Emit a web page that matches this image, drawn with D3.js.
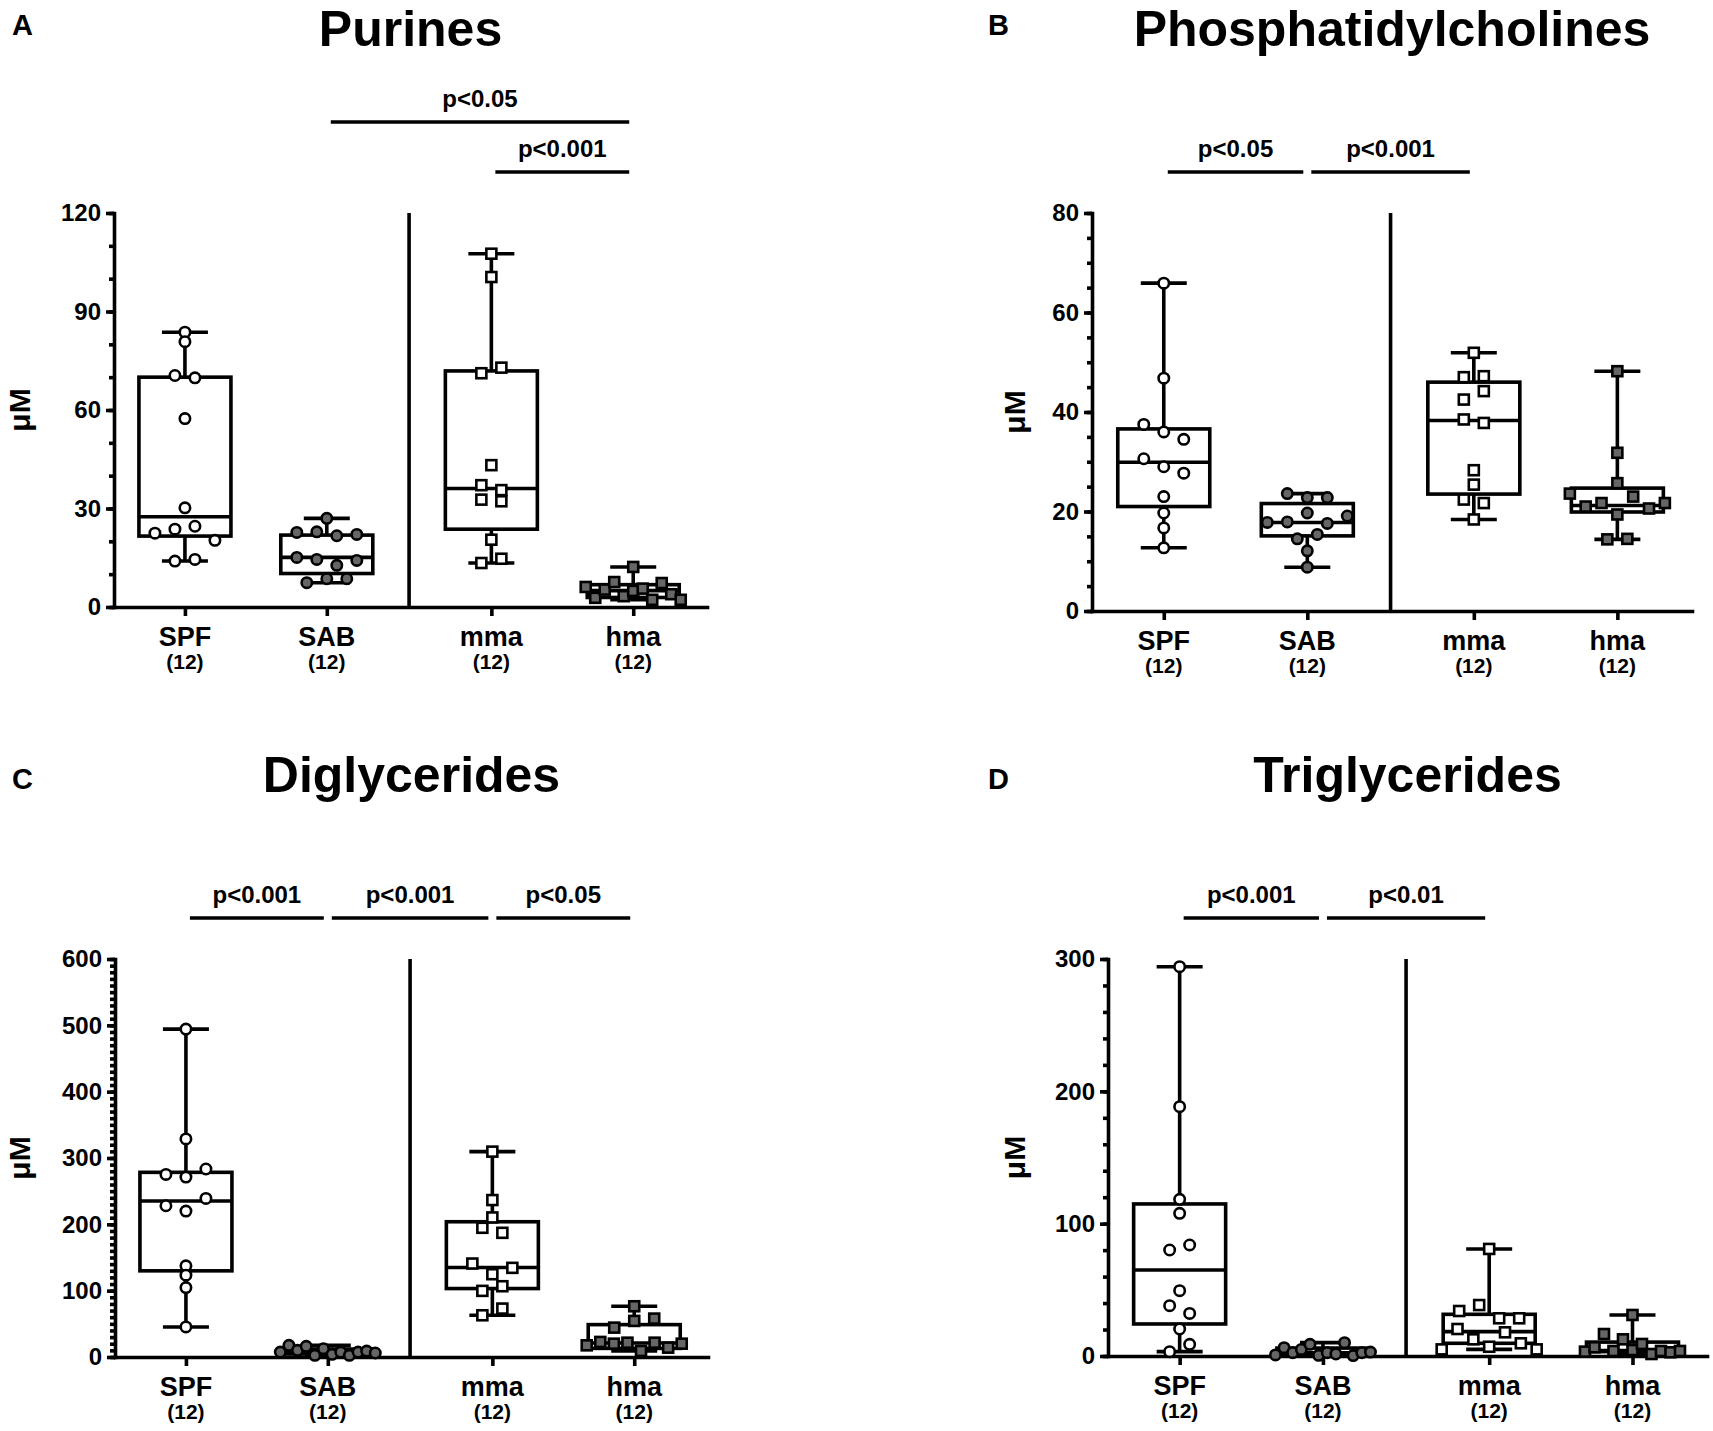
<!DOCTYPE html>
<html><head><meta charset="utf-8">
<script src="https://cdn.jsdelivr.net/npm/d3@7/dist/d3.min.js"></script>
<style>
body{margin:0;background:#fff}
svg{display:block}
text{font-family:"Liberation Sans",Arial,Helvetica,sans-serif;font-weight:bold;fill:#000}
</style>
</head><body>
<svg id="chart" width="1713" height="1431"></svg>
<script>
// ---------- data ----------
const groups = ["SPF", "SAB", "mma", "hma"];
const groupCounts = ["(12)", "(12)", "(12)", "(12)"];
const panelLetters = ["A", "B", "C", "D"];
const panelTitles = ["Purines", "Phosphatidylcholines", "Diglycerides", "Triglycerides"];
const yLabel = "μM";
const yMaxes = [120, 80, 600, 300];
const yMajorSteps = [30, 20, 100, 100];
const yMinorSteps = [10, 5, 10, 20];

// Purines
const purinesSPF = [83.7, 80.8, 70.5, 69.8, 57.4, 30.2, 22.5, 23.7, 24.6, 20.3, 14.0, 14.5];
const purinesSAB = [27.0, 22.7, 22.9, 21.7, 22.1, 15.1, 14.5, 12.7, 14.2, 7.4, 8.6, 8.6];
const purinesMMA = [107.6, 100.5, 71.2, 72.9, 43.2, 37.1, 35.6, 32.7, 32.2, 20.5, 13.4, 14.7];
const purinesHMA = [12.2, 6.1, 2.8, 5.3, 7.6, 3.3, 4.9, 5.6, 2.2, 7.3, 3.9, 2.2];
// box stats: [min, q1, median, q3, max]
const purinesBoxes = [[14.0, 21.6, 27.5, 70.0, 83.7], [7.4, 10.2, 15.1, 21.9, 27.0], [13.4, 23.7, 36.1, 71.9, 107.6], [2.2, 2.9, 5.0, 6.8, 12.2]];
const purinesSig = [["SAB", "hma", "p<0.05"], ["mma", "hma", "p<0.001"]];

// Phosphatidylcholines
const pcSPF = [65.9, 46.8, 37.5, 36.0, 34.5, 30.6, 29.0, 27.7, 23.0, 19.7, 16.7, 12.7];
const pcSAB = [23.6, 22.8, 22.8, 17.8, 17.9, 19.7, 17.6, 19.1, 14.5, 15.4, 12.1, 8.8];
const pcMMA = [51.9, 47.0, 47.2, 42.5, 44.2, 38.5, 37.8, 28.3, 25.4, 22.4, 21.7, 18.4];
const pcHMA = [48.2, 31.8, 25.7, 23.6, 21.0, 21.7, 19.4, 23.0, 20.6, 21.7, 14.4, 14.5];
const pcBoxes = [[12.7, 21.0, 29.9, 36.6, 65.9], [8.8, 15.1, 17.8, 21.6, 23.6], [18.4, 23.5, 38.3, 46.0, 51.9], [14.4, 19.9, 21.2, 24.7, 48.2]];
const pcSig = [["SPF", "SAB", "p<0.05"], ["SAB", "mma", "p<0.001"]];

// Diglycerides
const dgSPF = [494.3, 328.7, 275.3, 271.3, 283.4, 228.0, 220.0, 239.1, 137.4, 123.3, 104.7, 45.3];
const dgSAB = [7.5, 17.6, 10.0, 16.1, 2.5, 12.6, 4.0, 7.5, 2.5, 7.5, 9.0, 6.0];
const dgMMA = [309.6, 236.6, 210.4, 194.8, 187.2, 140.9, 124.8, 134.4, 99.7, 106.7, 62.9, 73.0];
const dgHMA = [76.5, 44.3, 54.4, 57.9, 17.6, 22.7, 20.1, 21.6, 9.1, 21.6, 14.1, 20.1];
const dgBoxes = [[45.3, 129.9, 235.1, 278.4, 494.3], [2.5, 4.5, 7.5, 12.0, 17.6], [62.9, 103.2, 134.9, 203.9, 309.6], [9.1, 13.0, 21.0, 48.8, 76.5]];
const dgSig = [["SPF", "SAB", "p<0.001"], ["SAB", "mma", "p<0.001"], ["mma", "hma", "p<0.05"]];

// Triglycerides
const tgSPF = [294.2, 188.4, 118.4, 107.8, 80.1, 83.9, 49.4, 38.0, 32.2, 20.4, 3.3, 8.8];
const tgSAB = [0.8, 6.3, 2.5, 5.0, 8.8, 0.5, 2.5, 1.5, 10.1, 0.3, 2.5, 3.0];
const tgMMA = [80.9, 34.0, 38.5, 28.5, 28.5, 5.0, 20.4, 12.6, 7.0, 17.9, 9.6, 5.0];
const tgHMA = [31.0, 3.3, 6.6, 16.6, 3.8, 12.6, 4.5, 9.1, 1.5, 3.8, 2.8, 3.8];
const tgBoxes = [[3.3, 24.2, 65.0, 114.9, 294.2], [0.3, 1.0, 2.5, 6.0, 10.1], [5.0, 9.6, 18.4, 31.5, 80.9], [1.5, 3.3, 4.2, 10.5, 31.0]];
const tgSig = [["SPF", "SAB", "p<0.001"], ["SAB", "mma", "p<0.01"]];

const panelValues = [
  [purinesSPF, purinesSAB, purinesMMA, purinesHMA],
  [pcSPF, pcSAB, pcMMA, pcHMA],
  [dgSPF, dgSAB, dgMMA, dgHMA],
  [tgSPF, tgSAB, tgMMA, tgHMA]
];
const panelBoxes = [purinesBoxes, pcBoxes, dgBoxes, tgBoxes];
const panelSigs = [purinesSig, pcSig, dgSig, tgSig];

// ---------- layout ----------
const frames = [
  {left: 114, right: 707, top: 213, bottom: 607, letterX: 12, labelX: 30, titleY: 46, letterY: 35},
  {left: 1092, right: 1692, top: 213, bottom: 611, letterX: 988, labelX: 1025, titleY: 46, letterY: 35},
  {left: 115, right: 708, top: 959, bottom: 1357, letterX: 12, labelX: 30, titleY: 792, letterY: 789},
  {left: 1108, right: 1707, top: 959, bottom: 1356, letterX: 988, labelX: 1025, titleY: 792, letterY: 789}
];
const slotPos = [0.5, 1.5, 2.66, 3.66];
const slotMax = 4.18;
const dividerSlot = 2.08;
const fills = ["#fff", "#666", "#fff", "#666"];
const shapes = ["circle", "circle", "square", "square"];
const LW = 3.6;

const svg = d3.select("#chart");

function swarm(values, y) {
  const n = values.length;
  const order = d3.range(n).sort((a, b) => values[a] - values[b]);
  const clusters = [];
  let cur = [order[0]];
  for (let k = 1; k < n; k++) {
    const gap = y(values[order[k - 1]]) - y(values[order[k]]);
    if (gap < 9) cur.push(order[k]); else { clusters.push(cur); cur = [order[k]]; }
  }
  clusters.push(cur);
  const off = new Array(n).fill(0);
  clusters.forEach(c => {
    c.sort((a, b) => a - b);
    const m = c.length;
    const step = m > 1 ? Math.min(20, 95 / (m - 1)) : 0;
    c.forEach((i, j) => { off[i] = (j - (m - 1) / 2) * step; });
  });
  return off;
}

frames.forEach((f, p) => {
  const g = svg.append("g");
  const x = d3.scaleLinear().domain([0, slotMax]).range([f.left, f.right]);
  const xg = d3.scaleOrdinal().domain(groups).range(slotPos);
  const y = d3.scaleLinear().domain([0, yMaxes[p]]).range([f.bottom, f.top]);

  // titles
  g.append("text").attr("x", f.letterX).attr("y", f.letterY).attr("font-size", 29).text(panelLetters[p]);
  g.append("text").attr("x", (f.left + f.right) / 2).attr("y", f.titleY).attr("text-anchor", "middle")
    .attr("font-size", 50).text(panelTitles[p]);
  g.append("text").attr("transform", `translate(${f.labelX},${(f.top + f.bottom) / 2}) rotate(-90)`)
    .attr("text-anchor", "middle").attr("font-size", 30).text(yLabel);

  // y axis
  const minor = d3.range(0, yMaxes[p] + 1e-9, yMinorSteps[p]);
  const major = d3.range(0, yMaxes[p] + 1e-9, yMajorSteps[p]);
  const ym = g.append("g").attr("transform", `translate(${f.left},0)`)
    .call(d3.axisLeft(y).tickValues(minor).tickSize(5).tickSizeOuter(0).tickFormat(""));
  ym.select(".domain").remove();
  const ya = g.append("g").attr("transform", `translate(${f.left},0)`)
    .call(d3.axisLeft(y).tickValues(major).tickSize(8).tickSizeOuter(0).tickPadding(5).tickFormat(d3.format("d")));
  [ym, ya].forEach(a => {
    a.selectAll("line").attr("stroke", "#000").attr("stroke-width", LW);
    a.selectAll("path").attr("stroke", "#000").attr("stroke-width", LW).attr("stroke-linecap", "square");
  });
  ya.selectAll("text").attr("font-size", 24).attr("font-family", "'Liberation Sans',Arial,sans-serif").attr("font-weight", "bold").attr("fill", "#000");

  // x axis
  const xa = g.append("g").attr("transform", `translate(0,${f.bottom})`)
    .call(d3.axisBottom(x).tickValues(slotPos).tickSize(9).tickSizeOuter(0).tickFormat(""));
  xa.selectAll("line").attr("stroke", "#000").attr("stroke-width", LW);
  xa.select(".domain").attr("stroke", "#000").attr("stroke-width", LW).attr("stroke-linecap", "square");
  groups.forEach((gr, i) => {
    g.append("text").attr("x", x(xg(gr))).attr("y", f.bottom + 39).attr("text-anchor", "middle")
      .attr("font-size", 27).text(gr);
    g.append("text").attr("x", x(xg(gr))).attr("y", f.bottom + 62).attr("text-anchor", "middle")
      .attr("font-size", 21).text(groupCounts[i]);
  });

  // divider
  g.append("line").attr("x1", x(dividerSlot)).attr("x2", x(dividerSlot)).attr("y1", y(yMaxes[p])).attr("y2", f.bottom)
    .attr("stroke", "#000").attr("stroke-width", LW);

  // boxes
  const boxW = 92, capW = 46;
  groups.forEach((gr, i) => {
    const cx = x(xg(gr));
    const [mn, q1, md, q3, mx] = panelBoxes[p][i];
    const bg = g.append("g").attr("stroke", "#000").attr("stroke-width", LW).attr("fill", "none");
    bg.append("line").attr("x1", cx).attr("x2", cx).attr("y1", y(mx)).attr("y2", y(q3));
    bg.append("line").attr("x1", cx).attr("x2", cx).attr("y1", y(q1)).attr("y2", y(mn));
    bg.append("line").attr("x1", cx - capW / 2).attr("x2", cx + capW / 2).attr("y1", y(mx)).attr("y2", y(mx));
    bg.append("line").attr("x1", cx - capW / 2).attr("x2", cx + capW / 2).attr("y1", y(mn)).attr("y2", y(mn));
    bg.append("rect").attr("x", cx - boxW / 2).attr("y", y(q3)).attr("width", boxW).attr("height", y(q1) - y(q3));
    bg.append("line").attr("x1", cx - boxW / 2).attr("x2", cx + boxW / 2).attr("y1", y(md)).attr("y2", y(md));
  });

  // points
  groups.forEach((gr, i) => {
    const cx = x(xg(gr));
    const vals = panelValues[p][i];
    const off = swarm(vals, y);
    const pg = g.append("g").attr("stroke", "#000").attr("stroke-width", 2.6).attr("fill", fills[i]);
    vals.forEach((v, k) => {
      if (shapes[i] === "circle") {
        pg.append("circle").attr("cx", cx + off[k]).attr("cy", y(v)).attr("r", 5.2);
      } else {
        pg.append("rect").attr("x", cx + off[k] - 5).attr("y", y(v) - 5).attr("width", 10).attr("height", 10);
      }
    });
  });

  // significance bars
  const sigs = panelSigs[p].map(s => ({a: groups.indexOf(s[0]), b: groups.indexOf(s[1]), t: s[2]}));
  const placed = [];
  sigs.slice().sort((u, v) => (u.b - u.a) - (v.b - v.a)).forEach(s => {
    let lvl = 0;
    while (placed.some(q => q.lvl === lvl && q.a < s.b && s.a < q.b)) lvl++;
    s.lvl = lvl; placed.push(s);
  });
  sigs.forEach(s => {
    const yy = f.top - 41 - s.lvl * 50;
    const x1 = x(slotPos[s.a]) + 4, x2 = x(slotPos[s.b]) - 4;
    g.append("line").attr("x1", x1).attr("x2", x2).attr("y1", yy).attr("y2", yy)
      .attr("stroke", "#000").attr("stroke-width", LW);
    g.append("text").attr("x", (x1 + x2) / 2).attr("y", yy - 15).attr("text-anchor", "middle")
      .attr("font-size", 24).text(s.t);
  });
});
</script>
</body></html>
